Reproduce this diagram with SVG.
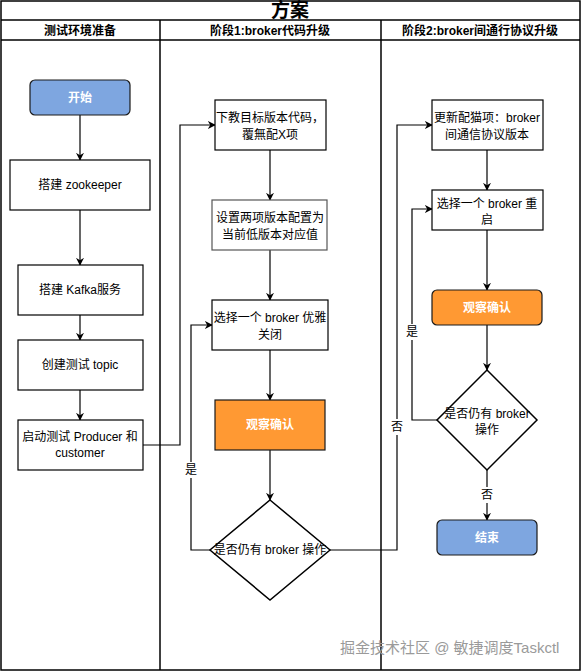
<svg xmlns="http://www.w3.org/2000/svg" width="581" height="671" viewBox="0 0 581 671">
<defs>
<marker id="arr" viewBox="0 0 10 10" refX="9" refY="5" markerWidth="8" markerHeight="8" markerUnits="userSpaceOnUse" orient="auto">
<path d="M0,0 L10,5 L0,10 L3,5 Z" fill="#000"/>
</marker>
<style>
text{font-family:"Liberation Sans","Noto Sans CJK SC",sans-serif;font-size:12px;fill:#000;text-anchor:middle}
.frame{fill:none;stroke:#000;stroke-width:1.5}
.box{fill:#fff;stroke:#000;stroke-width:1.2}
.blue{fill:#7EA6E0;stroke:#1a1a1a;stroke-width:1.2}
.orange{fill:#FF9933;stroke:#1a1a1a;stroke-width:1.2}
.w{fill:#fff;font-weight:bold}
.hdr{font-weight:bold}
.ttl{font-weight:bold;font-size:19px}
.edge{fill:none;stroke:#000;stroke-width:1.2;marker-end:url(#arr)}
.lbl{fill:#000}
.wm{fill:#9a9a9a;font-size:15px;text-anchor:start}
</style>
</defs>
<g id="pool">
<rect class="frame" x="1" y="1" width="579" height="669"/>
<line class="frame" x1="1" y1="20" x2="580" y2="20"/>
<line class="frame" x1="1" y1="40" x2="580" y2="40"/>
<line class="frame" x1="160" y1="20" x2="160" y2="670"/>
<line class="frame" x1="381" y1="20" x2="381" y2="670"/>
<text class="ttl" x="290" y="17">方案</text>
<text class="hdr" x="80" y="35">测试环境准备</text>
<text class="hdr" x="270" y="35">阶段1:broker代码升级</text>
<text class="hdr" x="480" y="35">阶段2:broker间通行协议升级</text>
</g>
<g id="edges">
<path class="edge" d="M80,115 V160"/>
<path class="edge" d="M80,210 V265"/>
<path class="edge" d="M80,315 V340"/>
<path class="edge" d="M80,390 V420"/>
<path class="edge" d="M143,445 H180 V125 H215"/>
<path class="edge" d="M270,150 V200"/>
<path class="edge" d="M270,250 V300"/>
<path class="edge" d="M270,350 V400"/>
<path class="edge" d="M270,450 V500"/>
<path class="edge" d="M210,550 H191 V325 H212"/>
<path class="edge" d="M330,550 H397 V125 H432"/>
<path class="edge" d="M487,150 V190"/>
<path class="edge" d="M487,230 V290"/>
<path class="edge" d="M487,325 V370"/>
<path class="edge" d="M437,420 H412 V209 H432"/>
<path class="edge" d="M487,470 V520"/>
<rect x="185" y="462" width="12" height="16" fill="#fff"/>
<text class="lbl" x="191" y="474">是</text>
<rect x="391" y="419" width="12" height="16" fill="#fff"/>
<text class="lbl" x="397" y="431">否</text>
<rect x="406" y="324" width="12" height="16" fill="#fff"/>
<text class="lbl" x="412" y="336">是</text>
<rect x="481" y="487" width="12" height="16" fill="#fff"/>
<text class="lbl" x="487" y="499">否</text>
</g>
<g id="start">
<rect class="blue" x="30" y="80" width="100" height="35" rx="5"/>
<text class="w" x="80" y="102">开始</text>
</g>
<g id="zookeeper">
<rect class="box" x="10" y="160" width="140" height="50"/>
<text x="80" y="189">搭建 zookeeper</text>
</g>
<g id="kafka">
<rect class="box" x="18" y="265" width="125" height="50"/>
<text x="80" y="294">搭建 Kafka服务</text>
</g>
<g id="topic">
<rect class="box" x="18" y="340" width="125" height="50"/>
<text x="80" y="369">创建测试 topic</text>
</g>
<g id="producer">
<rect class="box" x="18" y="420" width="125" height="50"/>
<text x="80" y="441">启动测试 Producer 和</text>
<text x="80" y="457">customer</text>
</g>
<g id="download">
<rect class="box" x="215" y="100" width="111" height="50"/>
<text x="270" y="122">下教目标版本代码，</text>
<text x="270" y="139">覆無配X项</text>
</g>
<g id="setconf">
<rect class="box" x="212" y="200" width="115" height="50" style="stroke:#555"/>
<text x="270" y="222">设置两项版本配置为</text>
<text x="270" y="239">当前低版本对应值</text>
</g>
<g id="shutdown">
<rect class="box" x="212" y="300" width="116" height="50"/>
<text x="270" y="322">选择一个 broker 优雅</text>
<text x="270" y="339">关闭</text>
</g>
<g id="observe1">
<rect class="orange" x="215" y="400" width="110" height="50"/>
<text class="w" x="270" y="429">观察确认</text>
</g>
<g id="decision1">
<polygon class="box" points="270,500 330,550 270,600 210,550" style="stroke-width:1.5"/>
<text x="270" y="554">是否仍有 broker 操作</text>
</g>
<g id="update">
<rect class="box" x="432" y="100" width="111" height="50"/>
<text x="487" y="122">更新配猫项：broker</text>
<text x="487" y="139">间通信协议版本</text>
</g>
<g id="restart">
<rect class="box" x="432" y="190" width="111" height="40"/>
<text x="487" y="208">选择一个 broker 重</text>
<text x="487" y="224">启</text>
</g>
<g id="observe2">
<rect class="orange" x="432" y="290" width="110" height="35" rx="5"/>
<text class="w" x="487" y="312">观察确认</text>
</g>
<g id="decision2">
<polygon class="box" points="487,370 537,420 487,470 437,420" style="stroke-width:1.5"/>
<text x="487" y="418">是否仍有 broker</text>
<text x="487" y="434">操作</text>
</g>
<g id="end">
<rect class="blue" x="437" y="520" width="100" height="35" rx="5"/>
<text class="w" x="487" y="542">结束</text>
</g>
<text class="wm" x="340" y="653">掘金技术社区 @ 敏捷调度Taskctl</text>
</svg>
